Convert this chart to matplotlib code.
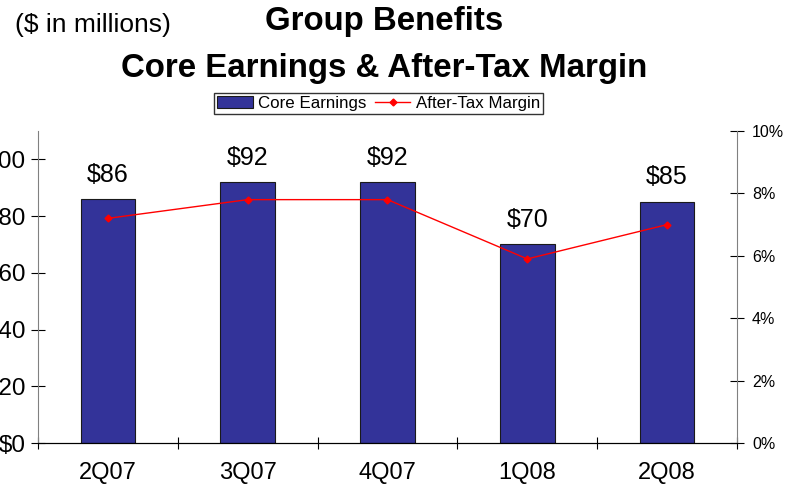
import matplotlib
matplotlib.use("Agg")
import matplotlib.pyplot as plt
import numpy as np
from matplotlib.ticker import FuncFormatter

plt.rcParams["font.family"] = ["Liberation Sans", "DejaVu Sans"]

# Quarterly core earnings ($M) and after-tax margin (%)
quarters = ['2Q07', '3Q07', '4Q07', '1Q08', '2Q08']
core_earnings = [86, 92, 92, 70, 85]
after_tax_margin = [7.2, 7.8, 7.8, 5.9, 7.0]

bar_color = '#333399'
line_color = '#FF0000'

fig = plt.figure(figsize=(7.86, 4.93), dpi=100)
ax = fig.add_axes([0.0483, 0.1014, 0.8894, 0.6329])
ax2 = ax.twinx()

x = np.arange(len(quarters))
bars = ax.bar(x, core_earnings, width=0.39, color=bar_color,
              edgecolor='#1a1a1a', linewidth=0.8, label='Core Earnings', zorder=2)
line, = ax2.plot(x, after_tax_margin, color=line_color, linewidth=1,
                 marker='D', markersize=3.5, label='After-Tax Margin', zorder=3)

# Value labels over each bar
for xi, v in zip(x, core_earnings):
    ax.annotate(f'${v}', (xi, v), xytext=(0, 9), textcoords='offset points',
                ha='center', va='bottom', fontsize=18)

ax.set_xlim(-0.5, len(quarters) - 0.5)
ax.set_ylim(0, 110)
ax.set_yticks(np.arange(0, 101, 20))
ax.yaxis.set_major_formatter(FuncFormatter(lambda v, p: f'${v:.0f}'))
ax2.set_ylim(0, 10)
ax2.set_yticks(np.arange(0, 11, 2))
ax2.yaxis.set_major_formatter(FuncFormatter(lambda v, p: f'{v:.0f}%'))

# Category ticks sit on the boundaries, labels in the middle
ax.set_xticks(np.arange(-0.5, len(quarters), 1))
ax.set_xticklabels([])
ax.set_xticks(x, minor=True)
ax.set_xticklabels(quarters, minor=True, fontsize=17)
ax.tick_params(axis='x', which='minor', length=0, pad=14)
ax.tick_params(axis='x', which='major', direction='inout', length=8, width=0.8)

ax.tick_params(axis='y', direction='inout', length=9.5, width=0.8, labelsize=17.5, pad=4)
ax2.tick_params(axis='y', direction='inout', length=9.5, width=0.8, labelsize=11.5, pad=6)

for a in (ax, ax2):
    a.spines['top'].set_visible(False)
    a.spines['left'].set_color('#808080')
    a.spines['right'].set_color('#808080')
    a.spines['bottom'].set_color('black')
    a.spines['bottom'].set_zorder(5)
ax2.spines['left'].set_visible(False)
ax.spines['right'].set_visible(False)
ax.set_facecolor('none')

ax.set_zorder(ax2.get_zorder() - 1)
ax2.patch.set_visible(False)

fig.legend([bars, line], ['Core Earnings', 'After-Tax Margin'],
           loc='center', bbox_to_anchor=(0.4816, 0.790), ncol=2,
           fontsize=12.2, frameon=True, fancybox=False, edgecolor='black',
           handlelength=2.1, handletextpad=0.3, columnspacing=0.5,
           borderpad=0.2, borderaxespad=0)

fig.text(0.4885, 0.957, 'Group Benefits', ha='center', va='center',
         fontsize=23.8, fontweight='bold')
fig.text(0.4885, 0.862, 'Core Earnings & After-Tax Margin', ha='center',
         va='center', fontsize=23.8, fontweight='bold')
fig.text(0.019, 0.950, '($ in millions)', ha='left', va='center', fontsize=19)

fig.savefig('out.png', dpi=100)
